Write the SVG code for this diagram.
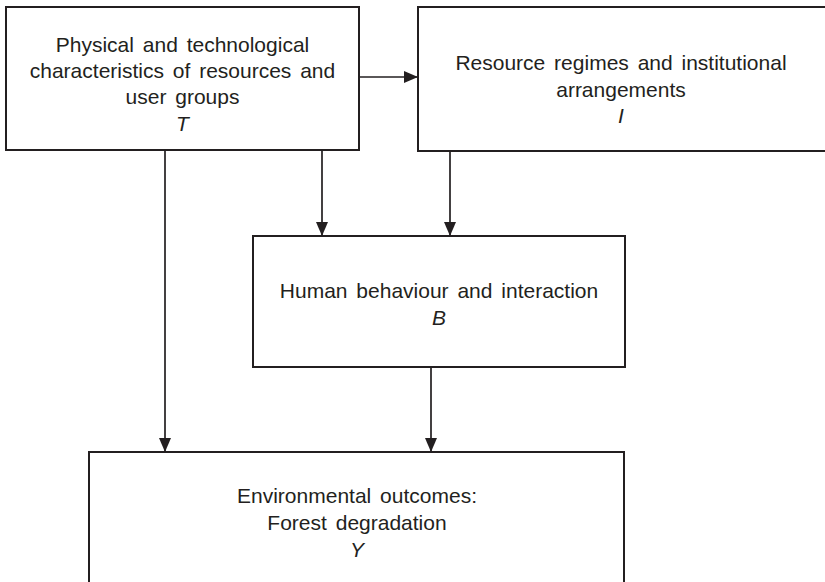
<svg xmlns="http://www.w3.org/2000/svg" width="825" height="582" viewBox="0 0 825 582">
<style>
.box{fill:#fff;stroke:#231f20;stroke-width:2}
.lbl{font-family:"Liberation Sans",Arial,sans-serif;font-size:21px;fill:#231f20;text-anchor:middle;word-spacing:3px}
.it{font-style:italic}
.conn{stroke:#231f20;stroke-width:1.7;fill:none;marker-end:url(#ah)}
</style>
<defs>
<marker id="ah" viewBox="0 0 14 12" refX="14" refY="6" markerWidth="14" markerHeight="12" markerUnits="userSpaceOnUse" orient="auto">
<path d="M0,0 L14,6 L0,12 Z" fill="#231f20"/>
</marker>
</defs>
<rect width="825" height="582" fill="#fff"/>
<g id="nodeT">
<rect class="box" x="6" y="7" width="353" height="143"/>
<text class="lbl" x="182.5" y="52">Physical and technological</text>
<text class="lbl" x="182.5" y="78">characteristics of resources and</text>
<text class="lbl" x="182.5" y="104">user groups</text>
<text class="lbl it" x="182.5" y="131">T</text>
</g>
<g id="nodeI">
<rect class="box" x="418" y="7" width="420" height="144"/>
<text class="lbl" x="621" y="70">Resource regimes and institutional</text>
<text class="lbl" x="621" y="97">arrangements</text>
<text class="lbl it" x="621" y="123">I</text>
</g>
<g id="nodeB">
<rect class="box" x="253" y="236" width="372" height="131"/>
<text class="lbl" x="439" y="298">Human behaviour and interaction</text>
<text class="lbl it" x="439" y="325">B</text>
</g>
<g id="nodeY">
<rect class="box" x="89" y="452" width="535" height="150"/>
<text class="lbl" x="357" y="503">Environmental outcomes:</text>
<text class="lbl" x="357" y="530">Forest degradation</text>
<text class="lbl it" x="357" y="557">Y</text>
</g>
<g id="connectors">
<line class="conn" x1="359" y1="77" x2="418" y2="77"/>
<line class="conn" x1="322" y1="150" x2="322" y2="236"/>
<line class="conn" x1="450" y1="151" x2="450" y2="236"/>
<line class="conn" x1="165" y1="150" x2="165" y2="452"/>
<line class="conn" x1="431" y1="367" x2="431" y2="452"/>
</g>
</svg>
